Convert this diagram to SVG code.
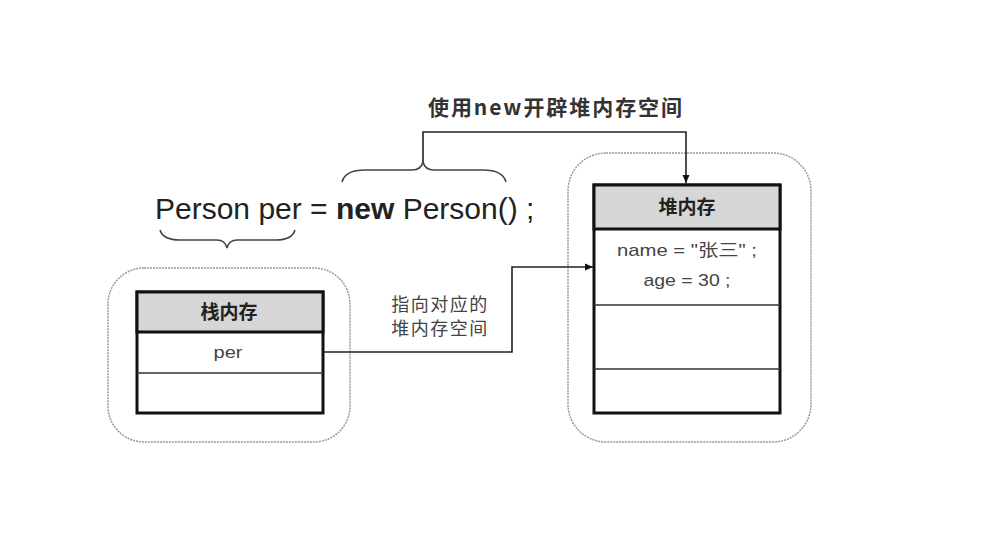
<svg xmlns="http://www.w3.org/2000/svg" width="996" height="541" viewBox="0 0 996 541">
<style>
.outer{fill:none;stroke:#999;stroke-width:1.5;stroke-dasharray:2 1}
.tbl{fill:#fff;stroke:#111;stroke-width:3}
.hdr{fill:#d6d6d6;stroke:#111;stroke-width:3}
.row{stroke:#333;stroke-width:1.5}
.conn{fill:none;stroke:#222;stroke-width:1.6}
.brace{fill:none;stroke:#444;stroke-width:1.6}
.t{font-family:"Liberation Sans","Noto Sans CJK SC",sans-serif;fill:#444;text-anchor:middle;font-size:17px}
.hd{font-family:"Noto Sans CJK SC",sans-serif;font-weight:bold;font-size:19px;fill:#222;text-anchor:middle}
.cj{font-family:"Noto Sans CJK SC",sans-serif;fill:#444;font-size:18px;letter-spacing:1.5px;text-anchor:middle}
</style>
<defs>
<marker id="arr" markerWidth="10" markerHeight="10" refX="9" refY="5" orient="auto" markerUnits="userSpaceOnUse">
<path d="M1,1.5 L9,5 L1,8.5 z" fill="#111"/>
</marker>
</defs>
<rect width="996" height="541" fill="#fff"/>

<g id="code">
<text x="155" y="219" font-family="Liberation Sans, Arial, sans-serif" font-size="30" fill="#222">Person per = <tspan font-weight="bold">new</tspan> Person() ;</text>
</g>

<g id="brace-new">
<path class="brace" d="M342,182 Q345,170 365,170 L412,170 Q421,170 423,162 Q425,170 434,170 L483,170 Q503,170 506,182"/>
</g>
<g id="brace-decl">
<path class="brace" d="M160,230 Q163,240 180,240 L217,240 Q225,240 227,248 Q229,240 237,240 L276,240 Q292,240 295,230"/>
</g>

<g id="label-new">
<text x="428" y="115" font-family="Noto Sans CJK SC, sans-serif" font-size="21" font-weight="bold" fill="#333" textLength="254" lengthAdjust="spacing">使用new开辟堆内存空间</text>
</g>

<g id="stack">
<rect class="outer" x="108" y="268" width="242" height="174" rx="36" ry="36"/>
<rect class="tbl" x="137" y="292" width="186" height="121"/>
<rect class="hdr" x="137" y="292" width="186" height="40"/>
<line class="row" x1="137" y1="373" x2="323" y2="373"/>
<text class="hd" x="229" y="319">栈内存</text>
<text class="t" x="228" y="358" textLength="29" lengthAdjust="spacingAndGlyphs">per</text>
</g>

<g id="heap">
<rect class="outer" x="568" y="153" width="243" height="289" rx="38" ry="38"/>
<rect class="tbl" x="594" y="185" width="186" height="228"/>
<rect class="hdr" x="594" y="185" width="186" height="44"/>
<line class="row" x1="594" y1="305" x2="780" y2="305"/>
<line class="row" x1="594" y1="369" x2="780" y2="369"/>
<text class="hd" x="687" y="214">堆内存</text>
<text class="t" x="687" y="256" textLength="140" lengthAdjust="spacingAndGlyphs">name = "张三" ;</text>
<text class="t" x="687" y="286" textLength="87" lengthAdjust="spacingAndGlyphs">age = 30 ;</text>
</g>

<g id="connectors">
<path class="conn" d="M423,162 L423,132 L686,132 L686,183" marker-end="url(#arr)"/>
<path class="conn" d="M323,352 L512,352 L512,267 L593,267" marker-end="url(#arr)"/>
</g>

<g id="label-ref">
<text class="cj" x="440" y="311">指向对应的</text>
<text class="cj" x="440" y="335">堆内存空间</text>
</g>
</svg>
